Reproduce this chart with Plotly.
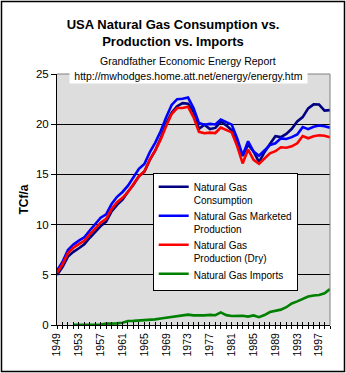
import plotly.graph_objects as go

years = list(range(1949, 2000))

consumption = [4.97, 5.77, 6.81, 7.29, 7.64, 8.05, 8.69, 9.29, 9.85, 10.30,
               11.32, 11.97, 12.49, 13.27, 13.97, 14.81, 15.28, 16.45, 17.39, 18.63,
               20.06, 21.14, 21.79, 22.10, 22.05, 21.22, 19.54, 19.95, 19.52, 19.63,
               20.24, 19.88, 19.40, 18.00, 16.83, 17.95, 17.28, 16.22, 17.21, 18.03,
               18.80, 18.72, 19.04, 19.54, 20.28, 20.71, 21.58, 21.97, 21.96, 21.36,
               21.40]

marketed = [5.42, 6.28, 7.46, 8.01, 8.40, 8.74, 9.41, 10.08, 10.68, 11.03,
            12.05, 12.77, 13.25, 13.88, 14.75, 15.55, 16.04, 17.21, 18.17, 19.32,
            20.70, 21.92, 22.49, 22.53, 22.65, 21.60, 20.11, 19.95, 20.03, 19.97,
            20.47, 20.18, 19.96, 18.58, 16.88, 18.30, 17.27, 16.86, 17.43, 17.92,
            18.10, 18.59, 18.53, 18.71, 18.98, 19.71, 19.51, 19.75, 19.87, 19.80,
            19.65]

dry = [5.20, 6.02, 7.16, 7.69, 8.06, 8.39, 9.03, 9.66, 10.19, 10.57,
       11.55, 12.23, 12.66, 13.25, 14.08, 14.82, 15.29, 16.47, 17.39, 18.49,
       19.83, 21.01, 21.61, 21.62, 21.73, 20.71, 19.24, 19.10, 19.16, 19.12,
       19.66, 19.40, 19.18, 17.82, 16.09, 17.47, 16.45, 16.06, 16.62, 17.10,
       17.31, 17.70, 17.65, 17.80, 18.10, 18.82, 18.60, 18.80, 18.90, 18.85,
       18.70]

imports = [None, None, None, 0.01, 0.01, 0.01, 0.01, 0.01, 0.04, 0.14,
           0.13, 0.16, 0.22, 0.40, 0.41, 0.44, 0.46, 0.48, 0.56, 0.65,
           0.73, 0.82, 0.93, 1.02, 1.03, 0.96, 0.95, 0.96, 1.01, 0.97,
           1.25, 0.98, 0.90, 0.93, 0.92, 0.84, 0.95, 0.78, 0.99, 1.29,
           1.38, 1.53, 1.77, 2.14, 2.35, 2.62, 2.84, 2.94, 2.99, 3.15,
           3.59]

series_names = ["Natural Gas<br>Consumption", "Natural Gas Marketed<br>Production",
                "Natural Gas<br>Production (Dry)", "Natural Gas Imports"]
series_colors = ["#000080", "#0000FF", "#FF0000", "#008000"]
y_ticks = [0, 5, 10, 15, 20, 25]
x_label_years = [y if (y - 1949) % 4 == 0 else "" for y in years]

FONT = "Liberation Sans, Arial, sans-serif"

fig = go.Figure()
for name, vals, col in zip(series_names, [consumption, marketed, dry, imports], series_colors):
    fig.add_trace(go.Scatter(x=years, y=vals, name=name, mode="lines",
                             line=dict(color=col, width=2.6), connectgaps=False))

W, H = 346, 373
L, R, T, B = 57, 16, 74, 48
pw, ph = W - L - R, H - T - B

def px_x(p):
    return (p - L) / pw

def px_y(p):
    return (H - B - p) / ph

fig.update_layout(
    width=W, height=H,
    margin=dict(l=L, r=R, t=T, b=B),
    paper_bgcolor="white",
    plot_bgcolor="#DDDDDD",
    font=dict(family=FONT, color="black", size=11),
    title=dict(text="<b>USA Natural Gas Consumption vs.<br>Production vs. Imports</b>",
               font=dict(size=13, family=FONT, color="black"),
               x=0.5, xref="container", xanchor="center",
               y=1 - 29 / H, yref="container", yanchor="top"),
    showlegend=True,
    legend=dict(x=px_x(152.7), y=px_y(172.7), xanchor="left", yanchor="top",
                bgcolor="white", bordercolor="black", borderwidth=1,
                font=dict(size=10, family=FONT, color="black"),
                valign="top", itemwidth=30, tracegroupgap=0),
    xaxis=dict(range=[1949, 1999], tickmode="array", tickvals=years,
               ticktext=[str(t) for t in x_label_years], tickangle=-90,
               ticks="outside", ticklen=3, tickcolor="black", tickwidth=1,
               showline=True, linecolor="black", linewidth=1,
               showgrid=False, zeroline=False,
               tickfont=dict(size=10.5, family=FONT, color="black")),
    xaxis2=dict(range=[1949, 1999], overlaying="x", anchor="y", side="bottom",
                tickmode="array", tickvals=years, showticklabels=False,
                ticks="inside", ticklen=3, tickcolor="black", tickwidth=1,
                showline=False, showgrid=False, zeroline=False),
    yaxis=dict(range=[0, 25], tickmode="array", tickvals=y_ticks,
               ticks="outside", ticklen=5, tickcolor="black",
               showline=True, linecolor="black", linewidth=1,
               showgrid=True, gridcolor="black", gridwidth=1, zeroline=False,
               tickfont=dict(size=11.5, family=FONT, color="black")),
)

fig.add_trace(go.Scatter(x=[1949, 1999], y=[None, None], xaxis="x2", yaxis="y",
                         showlegend=False, hoverinfo="skip", mode="lines"))

# plot-area frame (top and right), grey
fig.add_shape(type="line", xref="paper", yref="paper", x0=0, x1=1, y0=1, y1=1,
              line=dict(color="#808080", width=1), layer="above")
fig.add_shape(type="line", xref="paper", yref="paper", x0=1, x1=1, y0=0, y1=1,
              line=dict(color="#808080", width=1), layer="above")
# outer chart border
fig.add_shape(type="rect", xref="paper", yref="paper",
              x0=px_x(1.5), x1=px_x(344.5), y0=px_y(371.5), y1=px_y(1.5),
              line=dict(color="black", width=1.5), layer="above")

fig.add_annotation(text="Grandfather Economic Energy Report", xref="paper", yref="paper",
                   x=px_x(188), y=px_y(60.5), xanchor="center", yanchor="middle",
                   showarrow=False, font=dict(size=10.5, family=FONT, color="black"))
fig.add_annotation(text="http://mwhodges.home.att.net/energy/energy.htm",
                   xref="paper", yref="paper",
                   x=px_x(188), y=px_y(75.5), xanchor="center", yanchor="middle",
                   showarrow=False, bgcolor="white", borderpad=1, width=235,
                   font=dict(size=10.5, family=FONT, color="black"))
fig.add_annotation(text="<b>TCf/a</b>", xref="paper", yref="paper",
                   x=px_x(23), y=0.5, xanchor="center", yanchor="middle",
                   textangle=-90, showarrow=False,
                   font=dict(size=12, family=FONT, color="black"))

fig.write_html("out.html")
